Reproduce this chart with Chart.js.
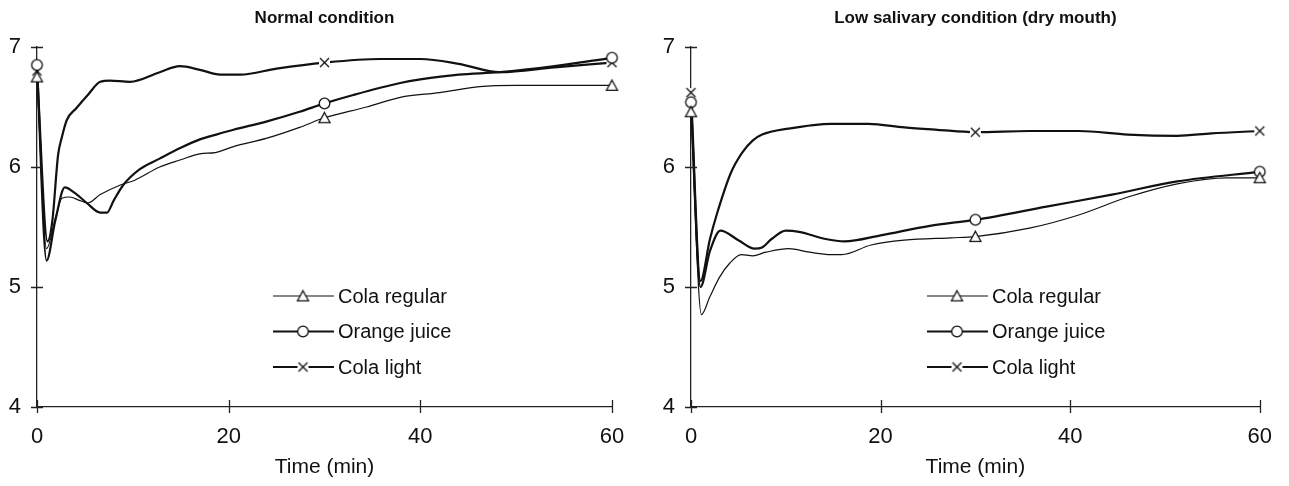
<!DOCTYPE html>
<html><head><meta charset="utf-8">
<script src="https://cdn.jsdelivr.net/npm/chart.js@4"></script>
<style>
html,body{margin:0;padding:0;background:#fff;}
#c1{position:absolute;left:0;top:0;}
#c2{position:absolute;left:645px;top:0;}
</style>
</head><body>
<canvas id="c1" width="645" height="486"></canvas>
<canvas id="c2" width="644" height="486"></canvas>
<script>
// ---- labels ----
const seriesNames = ['Cola regular', 'Orange juice', 'Cola light'];
const panelTitles = ['Normal condition', 'Low salivary condition (dry mouth)'];
const xTitle = 'Time (min)';
const xTicks = [0, 20, 40, 60];
const yTicks = [4, 5, 6, 7];
const markerTimes = [0, 30, 60];

// ---- Normal condition ----
const normRegT = [0, 1, 2, 2.6, 3.4, 4.5, 5.3, 6.6, 8.7, 10.2, 12.8, 15, 17, 18.6, 20.5, 24, 27.4, 30, 34.4, 37.9, 42, 46.2, 50, 55, 60];
const normRegV = [6.75, 5.32, 5.60, 5.74, 5.75, 5.72, 5.70, 5.77, 5.85, 5.89, 6.00, 6.06, 6.11, 6.12, 6.17, 6.24, 6.33, 6.41, 6.50, 6.58, 6.62, 6.67, 6.68, 6.68, 6.68];
const normOjT = [0, 1, 1.9, 2.9, 4, 5.2, 6.6, 7.3, 8, 9, 10.7, 12.8, 15, 17, 18.7, 20.5, 24, 27.4, 30, 33, 37.9, 40, 44, 48.3, 54, 60];
const normOjV = [6.85, 5.22, 5.55, 5.83, 5.78, 5.70, 5.62, 5.62, 5.72, 5.85, 5.98, 6.07, 6.16, 6.23, 6.27, 6.31, 6.38, 6.46, 6.53, 6.60, 6.70, 6.73, 6.77, 6.79, 6.84, 6.91];
const normLightT = [0, 1.1, 1.6, 2.2, 2.6, 3.1, 4.1, 5.3, 6.6, 7.6, 9.7, 12.8, 14.9, 17, 19.1, 21.2, 25, 30, 35.8, 40, 44, 48.3, 54, 60];
const normLightV = [6.80, 5.38, 5.55, 6.10, 6.25, 6.39, 6.49, 6.60, 6.71, 6.72, 6.71, 6.79, 6.84, 6.81, 6.77, 6.77, 6.82, 6.87, 6.90, 6.90, 6.86, 6.79, 6.83, 6.87];

// ---- Low salivary condition ----
const dryRegT = [0, 1.1, 2, 3, 4.1, 5.3, 6.5, 7.9, 10.3, 12.5, 14.8, 15.9, 19, 22.5, 27.4, 30, 35.7, 40.9, 46.1, 51.3, 56.6, 60];
const dryRegV = [6.46, 4.77, 4.92, 5.08, 5.20, 5.27, 5.26, 5.29, 5.32, 5.29, 5.27, 5.27, 5.35, 5.39, 5.41, 5.42, 5.49, 5.60, 5.75, 5.86, 5.91, 5.91];
const dryOjT = [0, 1, 2, 3.1, 5, 6.7, 7.5, 8.5, 10, 11.4, 14.2, 16.2, 20, 25.2, 30, 37.5, 44.4, 51.3, 60];
const dryOjV = [6.54, 5.00, 5.30, 5.47, 5.39, 5.32, 5.33, 5.40, 5.47, 5.46, 5.40, 5.38, 5.43, 5.51, 5.56, 5.67, 5.77, 5.88, 5.96];
const dryLightT = [0, 1, 2, 2.7, 4.2, 5.4, 6.5, 7.5, 10.3, 14.8, 18.7, 22.5, 26, 30, 35.7, 40.9, 46.1, 51.3, 54.9, 60];
const dryLightV = [6.62, 5.05, 5.40, 5.60, 5.95, 6.12, 6.22, 6.27, 6.32, 6.36, 6.36, 6.33, 6.31, 6.29, 6.30, 6.30, 6.27, 6.26, 6.28, 6.30];

// ---- styling ----
const FONT = "'Liberation Sans', Arial, sans-serif";
const INK = '#111';

function makeMarker(kind) {
  const s = 15, c = document.createElement('canvas');
  c.width = s; c.height = s;
  const g = c.getContext('2d');
  g.lineWidth = 1.3; g.strokeStyle = INK; g.fillStyle = '#fff';
  if (kind === 'tri') {
    g.beginPath(); g.moveTo(7.5, 2.2); g.lineTo(13, 12.3); g.lineTo(2, 12.3); g.closePath(); g.fill(); g.stroke();
  } else if (kind === 'circ') {
    g.beginPath(); g.arc(7.5, 7.5, 5.3, 0, Math.PI * 2); g.fill(); g.stroke();
  } else {
    g.fillRect(2, 3, 11, 9);
    g.beginPath(); g.moveTo(3, 3); g.lineTo(12, 12); g.moveTo(12, 3); g.lineTo(3, 12); g.stroke();
  }
  return c;
}
const markers = [makeMarker('tri'), makeMarker('circ'), makeMarker('cross')];
const widths = [1.2, 2.2, 2.2];

function pts(T, V) { return T.map((t, i) => ({x: t, y: V[i]})); }

function dataset(i, T, V) {
  return {
    label: seriesNames[i],
    data: pts(T, V),
    borderColor: INK,
    borderWidth: widths[i],
    cubicInterpolationMode: 'monotone',
    pointStyle: markers[i],
    pointRadius: (ctx) => (ctx.raw && markerTimes.includes(ctx.raw.x)) ? 5 : 0,
    pointHoverRadius: 0,
    clip: false
  };
}

const crossTicks = {
  id: 'crossTicks',
  afterDraw(chart) {
    const {ctx, chartArea: a, scales: {x, y}} = chart;
    ctx.save(); ctx.strokeStyle = '#222'; ctx.lineWidth = 1.3;
    ctx.beginPath();
    yTicks.forEach(v => { const py = Math.round(y.getPixelForValue(v)) + 0.5; ctx.moveTo(a.left - 6, py); ctx.lineTo(a.left + 6, py); });
    xTicks.forEach(v => { const px = Math.round(x.getPixelForValue(v)) + 0.5; ctx.moveTo(px, a.bottom - 7); ctx.lineTo(px, a.bottom + 6); });
    ctx.stroke(); ctx.restore();
  }
};

const panelTitle = {
  id: 'panelTitle',
  afterDraw(chart, args, opts) {
    const {ctx, chartArea: a} = chart;
    ctx.save();
    ctx.font = 'bold 17px ' + FONT; ctx.fillStyle = INK;
    ctx.textAlign = 'center'; ctx.textBaseline = 'middle';
    ctx.fillText(opts.text, (a.left + a.right) / 2, 18);
    ctx.restore();
  }
};

const innerLegend = {
  id: 'innerLegend',
  afterDatasetsDraw(chart) {
    const {ctx, chartArea: a} = chart;
    ctx.save();
    ctx.font = '20px ' + FONT; ctx.fillStyle = INK; ctx.textBaseline = 'middle';
    chart.data.datasets.forEach((ds, i) => {
      const y0 = a.top + 249 + i * 35.5, x0 = a.left + 236;
      ctx.strokeStyle = INK; ctx.lineWidth = widths[i];
      ctx.beginPath(); ctx.moveTo(x0, y0); ctx.lineTo(x0 + 61, y0); ctx.stroke();
      const m = markers[i];
      ctx.drawImage(m, x0 + 30 - m.width / 2, y0 - m.height / 2);
      ctx.fillText(ds.label, x0 + 65, y0 + 1);
    });
    ctx.restore();
  }
};

function makeChart(id, title, sets, yWidth, padRight) {
  new Chart(document.getElementById(id), {
    type: 'line',
    data: {datasets: sets},
    plugins: [innerLegend, crossTicks, panelTitle],
    options: {
      responsive: false, animation: false, devicePixelRatio: 1,
      layout: {padding: {left: 0, right: padRight, top: 47, bottom: 0}},
      plugins: {
        legend: {display: false}, tooltip: {enabled: false}, title: {display: false},
        panelTitle: {text: title}
      },
      scales: {
        x: {
          type: 'linear', min: 0, max: 60,
          afterBuildTicks(s) { s.ticks = xTicks.map(v => ({value: v})); },
          afterFit(s) { s.height = 79; },
          ticks: {color: INK, padding: 17, maxRotation: 0, font: {family: FONT, size: 22}},
          grid: {display: false, drawTicks: false},
          border: {display: true, color: '#222', width: 1.3},
          title: {display: true, text: xTitle, color: INK, font: {family: FONT, size: 21}, padding: {top: 4, bottom: 6}}
        },
        y: {
          min: 4, max: 7,
          afterBuildTicks(s) { s.ticks = yTicks.map(v => ({value: v})); },
          afterFit(s) { s.width = yWidth; },
          ticks: {color: INK, padding: 16, font: {family: FONT, size: 22}},
          grid: {display: false, drawTicks: false},
          border: {display: true, color: '#222', width: 1.3}
        }
      }
    }
  });
}

makeChart('c1', panelTitles[0], [
  dataset(0, normRegT, normRegV),
  dataset(1, normOjT, normOjV),
  dataset(2, normLightT, normLightV)
], 37, 33);

makeChart('c2', panelTitles[1], [
  dataset(0, dryRegT, dryRegV),
  dataset(1, dryOjT, dryOjV),
  dataset(2, dryLightT, dryLightV)
], 46, 23);
</script>
</body></html>
